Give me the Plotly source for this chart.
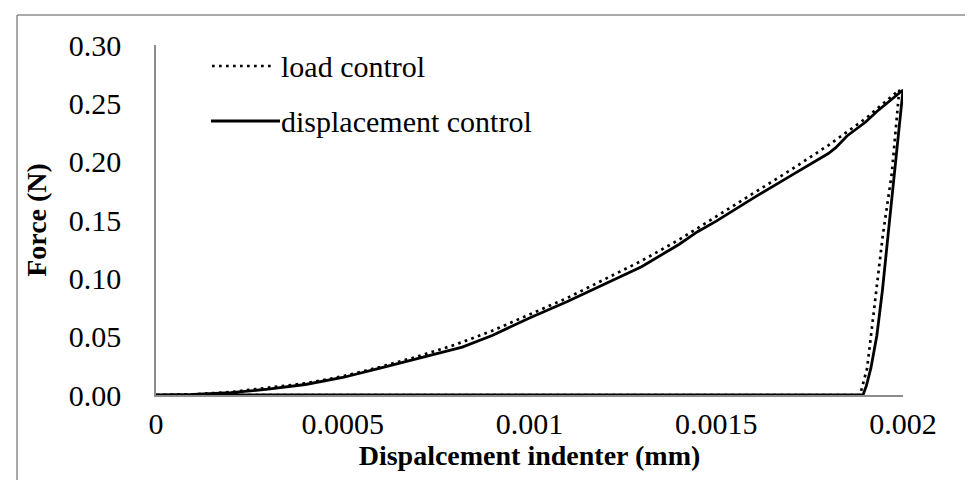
import plotly.graph_objects as go

# Load control (dotted) — loading branch, unloading branch, then back along zero
load_x = [0, 0.0001, 0.0002, 0.0003, 0.0004, 0.0005, 0.0006, 0.0007, 0.0008, 0.0009,
          0.001, 0.0011, 0.0012, 0.0013, 0.0014, 0.0015, 0.0016, 0.0017, 0.0018, 0.0019,
          0.00199, 0.00197, 0.001946, 0.00193, 0.001914, 0.001904, 0.001885, 0]
load_y = [0, 0.0006, 0.0025, 0.006, 0.010, 0.016, 0.024, 0.033, 0.043, 0.055,
          0.069, 0.083, 0.099, 0.115, 0.133, 0.153, 0.173, 0.193, 0.214, 0.237,
          0.2615, 0.19, 0.137, 0.095, 0.051, 0.023, 0, 0]

# Displacement control (solid)
disp_x = [0, 0.0001, 0.0002, 0.0003, 0.0004, 0.0005, 0.0006, 0.0007, 0.0008, 0.00082, 0.0009,
          0.001, 0.0011, 0.0012, 0.0013, 0.0014, 0.00145, 0.0015, 0.0016, 0.0017, 0.0018, 0.00182,
          0.00185, 0.0019, 0.00193, 0.002,
          0.001975, 0.00196, 0.001945, 0.00193, 0.001914, 0.001902, 0.001893, 0]
disp_y = [0, 0.0005, 0.002, 0.005, 0.009, 0.015, 0.023, 0.031, 0.039, 0.041, 0.051,
          0.066, 0.080, 0.095, 0.110, 0.129, 0.140, 0.149, 0.169, 0.188, 0.207, 0.212,
          0.222, 0.234, 0.243, 0.2614,
          0.18, 0.137, 0.09, 0.051, 0.023, 0.008, 0, 0]

x_ticks = [0, 0.0005, 0.001, 0.0015, 0.002]
x_tick_text = ["0", "0.0005", "0.001", "0.0015", "0.002"]
y_ticks = [0, 0.05, 0.10, 0.15, 0.20, 0.25, 0.30]
y_tick_text = ["0.00", "0.05", "0.10", "0.15", "0.20", "0.25", "0.30"]

series_names = ["load control", "displacement control"]

FONT = "Liberation Serif"
L, R, T, B = 148, 78, 37, 93
W, H = 973, 480
PW, PH = W - L - R, H - T - B

def px(x):
    return (x - L) / PW

def py(y):
    return (H - B - y) / PH

fig = go.Figure()
fig.add_trace(go.Scatter(x=load_x, y=load_y, mode="lines", name=series_names[0],
                         line=dict(color="black", width=2.7, dash="2.7px,4.3px"),
                         showlegend=False))
fig.add_trace(go.Scatter(x=disp_x, y=disp_y, mode="lines", name=series_names[1],
                         line=dict(color="black", width=2.8),
                         showlegend=False))

# manual legend
fig.add_shape(type="line", xref="paper", yref="paper", x0=px(204), x1=px(266), y0=py(58), y1=py(58),
              line=dict(color="black", width=2.7, dash="2.7px,4.3px"))
fig.add_shape(type="line", xref="paper", yref="paper", x0=px(203), x1=px(272), y0=py(113), y1=py(113),
              line=dict(color="black", width=2.8))
fig.add_annotation(xref="paper", yref="paper", x=px(271), y=py(58), text=series_names[0],
                   showarrow=False, xanchor="left", yanchor="middle",
                   font=dict(family=FONT, size=30, color="black"))
fig.add_annotation(xref="paper", yref="paper", x=px(271), y=py(113), text=series_names[1],
                   showarrow=False, xanchor="left", yanchor="middle",
                   font=dict(family=FONT, size=30, color="black"))

# outer border (left and top visible)
fig.add_shape(type="line", xref="paper", yref="paper", x0=px(9), x1=px(9), y0=py(7), y1=py(500),
              line=dict(color="#8c8c8c", width=1.5))
fig.add_shape(type="line", xref="paper", yref="paper", x0=px(9), x1=px(1000), y0=py(7), y1=py(7),
              line=dict(color="#8c8c8c", width=1.5))

fig.update_layout(
    width=W, height=H,
    margin=dict(l=L, r=R, t=T, b=B, autoexpand=False),
    paper_bgcolor="white", plot_bgcolor="white",
    font=dict(family=FONT, size=30, color="black"),
    showlegend=False,
    xaxis=dict(range=[0, 0.002], tickvals=x_ticks, ticktext=x_tick_text,
               showgrid=False, zeroline=False, showline=True, linecolor="#8c8c8c", linewidth=1.5,
               ticks="", ticklabelstandoff=1, tickfont=dict(family=FONT, size=30),
               title=dict(text="<b>Dispalcement indenter (mm)</b>", standoff=1,
                          font=dict(family=FONT, size=28))),
    yaxis=dict(range=[0, 0.30], tickvals=y_ticks, ticktext=y_tick_text,
               showgrid=False, zeroline=False, showline=True, linecolor="#8c8c8c", linewidth=1.5,
               ticks="", ticklabelstandoff=27, tickfont=dict(family=FONT, size=30),
               title=dict(text="<b>Force (N)</b>", standoff=14,
                          font=dict(family=FONT, size=28))),
)

fig.write_html("out.html")
